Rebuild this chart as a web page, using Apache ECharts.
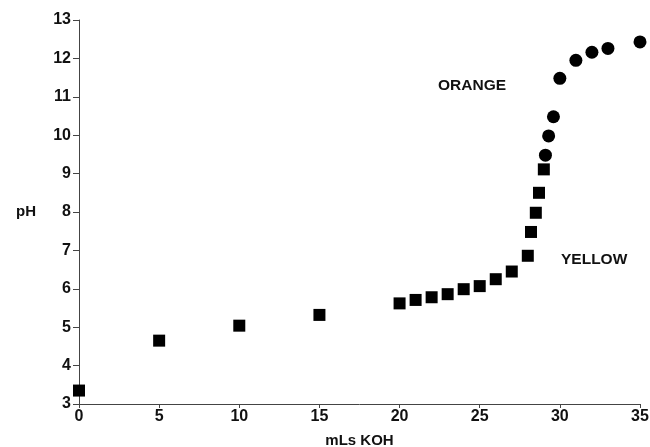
<!DOCTYPE html>
<html>
<head>
<meta charset="utf-8">
<script src="https://cdn.jsdelivr.net/npm/echarts@6/dist/echarts.min.js"></script>
<style>
  html, body { margin: 0; padding: 0; background: #fff; }
  #chart { width: 650px; height: 447px; }
</style>
</head>
<body>
<div id="chart"></div>
<script>
// titration curve: mLs KOH vs pH
const yellowX = [0, 5, 10, 15, 20, 21, 22, 23, 24, 25, 26, 27, 28, 28.2, 28.5, 28.7, 29.0]
const yellowY = [3.35, 4.65, 5.04, 5.32, 5.62, 5.71, 5.78, 5.86, 5.99, 6.07, 6.25, 6.45, 6.86, 7.48, 7.98, 8.5, 9.11]
const orangeX = [29.1, 29.3, 29.6, 30, 31, 32, 33, 35]
const orangeY = [9.48, 9.98, 10.48, 11.48, 11.95, 12.16, 12.26, 12.43]
const xTicks = [0, 5, 10, 15, 20, 25, 30, 35]
const yTicks = [3, 4, 5, 6, 7, 8, 9, 10, 11, 12, 13]

const FONT = 'Liberation Sans, Arial, sans-serif'
const INK = '#111'

const chart = echarts.init(document.getElementById('chart'))

chart.setOption({
  animation: false,
  grid: { left: 79, right: 10, top: 20, bottom: 43, outerBoundsMode: 'none', containLabel: false },
  xAxis: {
    type: 'value',
    min: xTicks[0],
    max: xTicks[xTicks.length - 1],
    interval: 5,
    name: 'mLs KOH',
    nameLocation: 'middle',
    nameGap: 29,
    nameTextStyle: { fontFamily: FONT, fontSize: 15, fontWeight: 'bold', color: INK },
    axisLine: { lineStyle: { color: '#444', width: 1 } },
    axisTick: { show: true, length: 4, lineStyle: { color: '#444' } },
    axisLabel: { fontFamily: FONT, fontSize: 16, fontWeight: 'bold', color: INK, margin: 5 },
    splitLine: { show: false }
  },
  yAxis: {
    type: 'value',
    min: yTicks[0],
    max: yTicks[yTicks.length - 1],
    interval: 1,
    name: 'pH',
    nameLocation: 'middle',
    nameRotate: 0,
    nameGap: 43,
    nameTextStyle: { fontFamily: FONT, fontSize: 15, fontWeight: 'bold', color: INK },
    axisLine: { show: true, lineStyle: { color: '#444', width: 1 } },
    axisTick: { show: true, length: 6, lineStyle: { color: '#444' } },
    axisLabel: { fontFamily: FONT, fontSize: 16, fontWeight: 'bold', color: INK, margin: 8 },
    splitLine: { show: false }
  },
  series: [
    {
      type: 'scatter',
      symbol: 'rect',
      symbolSize: 12,
      itemStyle: { color: '#000', opacity: 1 },
      data: yellowX.map((x, i) => [x, yellowY[i]])
    },
    {
      type: 'scatter',
      symbol: 'circle',
      symbolSize: 13,
      itemStyle: { color: '#000', opacity: 1 },
      data: orangeX.map((x, i) => [x, orangeY[i]])
    }
  ],
  graphic: [
    { type: 'text', left: 438, top: 78, style: { text: 'ORANGE', font: 'bold 15.5px ' + FONT, fill: INK } },
    { type: 'text', left: 561, top: 252, style: { text: 'YELLOW', font: 'bold 15.5px ' + FONT, fill: INK } }
  ]
})
</script>
</body>
</html>
